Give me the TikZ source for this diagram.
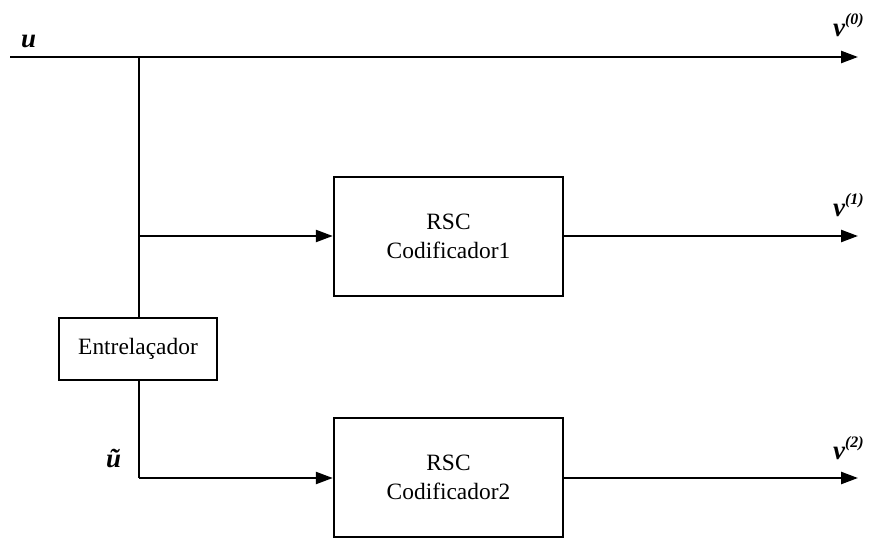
\documentclass[tikz,border=0pt]{standalone}
\usepackage{fontspec}
\setmainfont{Liberation Serif}
\usetikzlibrary{arrows.meta}
\begin{document}
\begin{tikzpicture}[x=1bp,y=-1bp,
  line width=2.4bp,
  blk/.style={draw, line width=2.4bp, inner sep=0pt, align=center, font=\fontsize{23.5}{29}\selectfont},
  arr/.style={-{Triangle[length=17bp,width=12bp]}},
  lbl/.style={inner sep=0pt, font=\fontsize{27}{30}\selectfont\bfseries\itshape}]
\useasboundingbox (0,0) rectangle (869,541);
\node[blk, minimum width=158bp, minimum height=62bp] (ent) at (138,349) {Entrela\c{c}ador};
\node[blk, minimum width=229bp, minimum height=119bp] (r1) at (448.5,236.5) {RSC\\Codificador1};
\node[blk, minimum width=229bp, minimum height=119bp] (r2) at (448.5,477.5) {RSC\\Codificador2};
\coordinate (in) at (10,57);
\coordinate (j) at (139,57);
\coordinate (out0) at (858,57);
\coordinate (b1) at (139,236);
\coordinate (b2) at (139,478);
\coordinate (out1) at (858,236);
\coordinate (out2) at (858,478);
\draw[arr] (in) -- (out0);
\draw (j) -- (ent.north -| j);
\draw[arr] (b1) -- (r1.west |- b1);
\draw (ent.south -| b2) -- (b2);
\draw[arr] (b2) -- (r2.west |- b2);
\draw[arr] (r1.east |- out1) -- (out1);
\draw[arr] (r2.east |- out2) -- (out2);
\node[lbl, anchor=base west] (lu) at (20,48) {u};
\node[lbl, anchor=base west] (lut) at (105,467) {\~{u}};
\node[lbl, anchor=base west] (l0) at (832,37) {v\raisebox{12bp}{\fontsize{16}{18}\selectfont(0)}};
\node[lbl, anchor=base west] (l1) at (832,217) {v\raisebox{12bp}{\fontsize{16}{18}\selectfont(1)}};
\node[lbl, anchor=base west] (l2) at (832,459) {v\raisebox{12bp}{\fontsize{16}{18}\selectfont(2)}};
\end{tikzpicture}
\end{document}
